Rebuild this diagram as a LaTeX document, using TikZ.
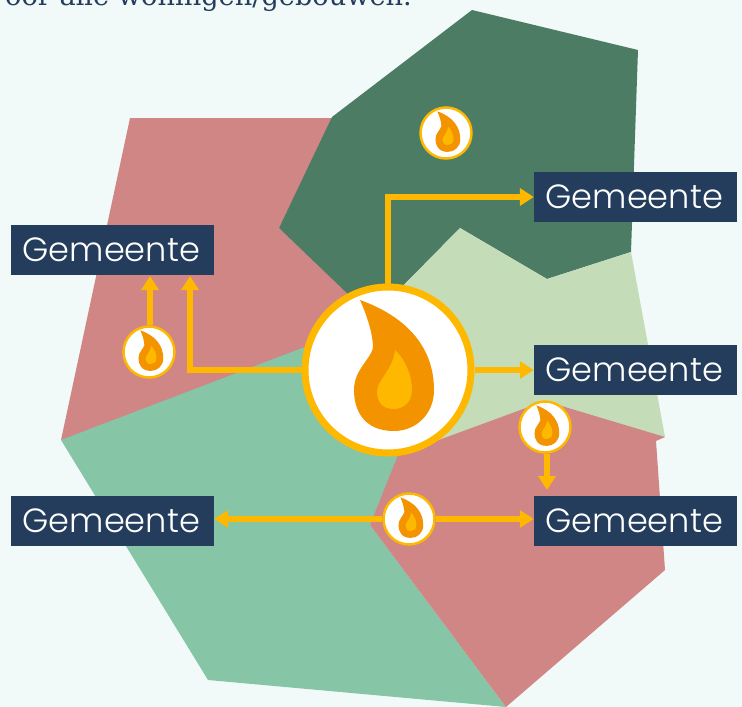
\documentclass[tikz,border=0pt]{standalone}
\usepackage{fontspec}
\usetikzlibrary{arrows.meta}
\newfontfamily\gemfont{Poppins Light}
\newfontfamily\headfont{DejaVu Serif}
\definecolor{bgc}{HTML}{F1FAF9}
\definecolor{navy}{HTML}{243D5C}
\definecolor{dgreen}{HTML}{4C7D64}
\definecolor{rose}{HTML}{D08684}
\definecolor{lgreen}{HTML}{C5DCB9}
\definecolor{mgreen}{HTML}{86C6A7}
\definecolor{amber}{HTML}{FFB800}
\definecolor{flameo}{HTML}{F49300}
\newcommand{\gemtext}{\raisebox{-3pt}{Gemeente\hspace{2.5pt}}}
\tikzset{
  x=1pt,y=-1pt,
  gembox/.style={fill=navy,text=white,minimum width=203pt,minimum height=50pt,inner sep=0pt,font=\gemfont\fontsize{33.6}{33.6}\selectfont},
  hubc/.style={circle,draw=amber,fill=white,line width=7pt,minimum size=166pt,inner sep=0pt},
  minic/.style={circle,draw=amber,fill=white,line width=2.5pt,minimum size=51pt,inner sep=0pt},
  conn/.style={draw=amber,line width=5.5pt,-{Triangle[length=14pt,width=17pt]}},
  flame/.pic={
    \fill[flameo] (-28,-70) .. controls (22,-52) and (46,-20) .. (46,20)
      .. controls (46,45) and (27,61) .. (6,61)
      .. controls (-26,61) and (-34,38) .. (-34,20)
      .. controls (-34,0) and (-18,-10) .. (-15,-22)
      .. controls (-15,-35) and (-20,-52) .. (-28,-70) -- cycle;
    \fill[amber] (7,-20) .. controls (18,-10) and (24,7) .. (24,20)
      .. controls (24,32) and (15,39) .. (6,39)
      .. controls (-5,39) and (-11,32) .. (-11,22)
      .. controls (-11,10) and (5,0) .. (7,-20) -- cycle;
  }
}
\begin{document}
\begin{tikzpicture}
\useasboundingbox (0,0) rectangle (742,707);
\fill[bgc] (0,0) rectangle (742,707);
\begin{scope}
\clip (0,0) rectangle (742,707);
\node[anchor=base west,inner sep=0pt,text=navy,font=\headfont\fontsize{27.2}{27.2}\selectfont] (head) at (5,5) {oor alle woningen/gebouwen.};
\fill[rose] (130,118) -- (333,118) -- (279,228) -- (387,330) -- (387,370) -- (61,440) -- cycle;
\fill[dgreen] (472,10) -- (638,50) -- (631,252) -- (547,279) -- (460,228) -- (387,302) -- (350,296) -- (279,228) -- (332,117) -- cycle;
\fill[lgreen] (460,228) -- (547,279) -- (631,252) -- (665,437) -- (398,470) -- (387,370) -- (387,302) -- cycle;
\fill[mgreen] (61,440) -- (310,345) -- (387,370) -- (400,455) -- (370,525) -- (506,707) -- (208,680) -- cycle;
\fill[rose] (398,455) -- (545,401) -- (665,437) -- (656,441) -- (665,570) -- (506,707) -- (370,525) -- cycle;
\end{scope}
\node[gembox] (b1) at (112.5,250) {\gemtext};
\node[gembox] (b2) at (635.5,197) {\gemtext};
\node[gembox] (b3) at (635.5,370) {\gemtext};
\node[gembox] (b4) at (112.5,521) {\gemtext};
\node[gembox] (b5) at (635.5,521) {\gemtext};
\node[hubc] (hub) at (388,370) {};
\node[minic] (s1) at (446,133) {};
\node[minic] (s2) at (149,352) {};
\node[minic] (s3) at (545,427) {};
\node[minic] (s4) at (409,519) {};
\pic at (hub.center) {flame};
\foreach \n in {s1,s2,s3,s4} \pic[scale=.31] at (\n.center) {flame};
\coordinate (e3) at (547,490);
\coordinate (up1) at (150,276);
\coordinate (up2) at (190,276);
\draw[conn] (hub.north) |- (b2.west);
\draw[conn] (hub.west) -| (up2);
\draw[conn] (hub.east) -- (b3.west);
\draw[conn] (s2.north -| up1) -- (up1);
\draw[conn] (s3.south -| e3) -- (e3);
\draw[conn] (s4.west) -- (b4.east |- s4.west);
\draw[conn] (s4.east) -- (b5.west |- s4.east);
\end{tikzpicture}
\end{document}
